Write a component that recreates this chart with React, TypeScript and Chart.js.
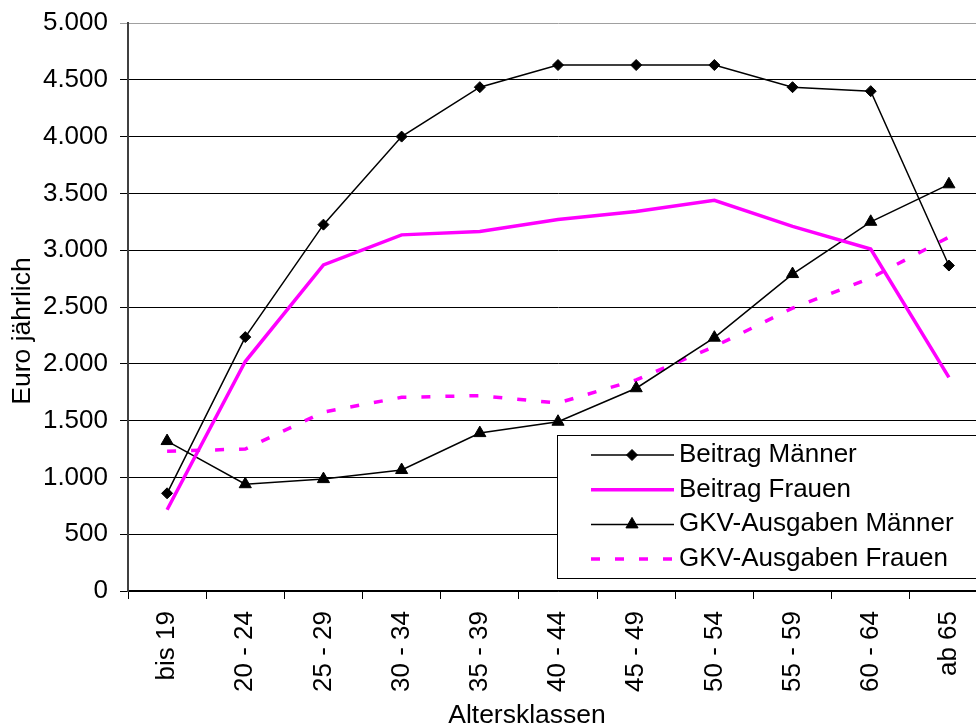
import React, { useEffect, useRef } from "react";
import { Chart, registerables } from "chart.js";

Chart.register(...registerables);

const categories = ["bis 19", "20 - 24", "25 - 29", "30 - 34", "35 - 39", "40 - 44", "45 - 49", "50 - 54", "55 - 59", "60 - 64", "ab 65"];
const beitragMaenner = [860, 2235, 3225, 4000, 4435, 4630, 4630, 4630, 4435, 4400, 2865];
const beitragFrauen = [715, 2020, 2870, 3135, 3165, 3270, 3340, 3440, 3210, 3010, 1880];
const gkvMaenner = [1320, 940, 985, 1065, 1390, 1490, 1785, 2230, 2790, 3250, 3580];
const gkvFrauen = [1230, 1250, 1575, 1705, 1720, 1655, 1858, 2152, 2490, 2755, 3115];
const seriesLabels = ["Beitrag Männer", "Beitrag Frauen", "GKV-Ausgaben Männer", "GKV-Ausgaben Frauen"];
const yMin = 0;
const yMax = 5000;
const yStep = 500;
const xTitle = "Altersklassen";
const yTitle = "Euro jährlich";

const FONT = "'Liberation Sans', Arial, sans-serif";
const MAGENTA = "#ff00ff";

function fmt(v: number): string {
  return String(v).replace(/\B(?=(\d{3})+(?!\d))/g, ".");
}

function drawDiamond(ctx: CanvasRenderingContext2D, x: number, y: number, r: number) {
  ctx.beginPath();
  ctx.moveTo(x, y - r);
  ctx.lineTo(x + r, y);
  ctx.lineTo(x, y + r);
  ctx.lineTo(x - r, y);
  ctx.closePath();
  ctx.fill();
  ctx.stroke();
}

function drawTriangle(ctx: CanvasRenderingContext2D, x: number, y: number, r: number) {
  ctx.beginPath();
  ctx.moveTo(x, y - r);
  ctx.lineTo(x + r * 0.866, y + r / 2);
  ctx.lineTo(x - r * 0.866, y + r / 2);
  ctx.closePath();
  ctx.fill();
  ctx.stroke();
}

const overlayPlugin = {
  id: "overlay",
  afterDraw(chart: any) {
    const ctx: CanvasRenderingContext2D = chart.ctx;
    ctx.save();
    ctx.fillStyle = "#000";
    ctx.font = `26.5px ${FONT}`;
    // y title
    ctx.save();
    ctx.translate(30, 331);
    ctx.rotate(-Math.PI / 2);
    ctx.textAlign = "center";
    ctx.textBaseline = "alphabetic";
    ctx.fillText(yTitle, 0, 0);
    ctx.restore();
    // x title
    ctx.textAlign = "center";
    ctx.textBaseline = "alphabetic";
    ctx.fillText(xTitle, 527, 723);

    // legend
    const bx = 557.5, by = 435.5, bw = 450, bh = 143;
    ctx.fillStyle = "#fff";
    ctx.fillRect(bx, by, bw, bh);
    ctx.strokeStyle = "#000";
    ctx.lineWidth = 1;
    ctx.strokeRect(bx, by, bw, bh);

    ctx.font = `26px ${FONT}`;
    const x0 = 591, x1 = 674, xm = 632, tx = 679;
    for (let i = 0; i < seriesLabels.length; i++) {
      const ry = 455 + i * 34.7;
      ctx.save();
      if (i === 0 || i === 2) {
        ctx.strokeStyle = "#000";
        ctx.lineWidth = 1.5;
        ctx.setLineDash([]);
      } else {
        ctx.strokeStyle = MAGENTA;
        ctx.lineWidth = 3.5;
        ctx.setLineDash(i === 3 ? [9, 15] : []);
      }
      ctx.beginPath();
      ctx.moveTo(x0, ry);
      ctx.lineTo(x1, ry);
      ctx.stroke();
      ctx.setLineDash([]);
      ctx.fillStyle = "#000";
      ctx.strokeStyle = "#000";
      ctx.lineWidth = 1;
      if (i === 0) drawDiamond(ctx, xm, ry, 5.5);
      if (i === 2) drawTriangle(ctx, xm, ry, 7);
      ctx.restore();
      ctx.fillStyle = "#000";
      ctx.textAlign = "left";
      ctx.textBaseline = "alphabetic";
      ctx.fillText(seriesLabels[i], tx, ry + 7);
    }
    ctx.restore();
  },
};

export default function App() {
  const canvasRef = useRef<HTMLCanvasElement | null>(null);

  useEffect(() => {
    if (!canvasRef.current) return;
    const tickFont = { family: FONT, size: 26 };
    const chart = new Chart(canvasRef.current, {
      type: "line",
      data: {
        labels: categories,
        datasets: [
          {
            label: seriesLabels[0],
            data: beitragMaenner,
            borderColor: "#000",
            borderWidth: 1.5,
            pointStyle: "rectRot",
            pointRadius: 5.5,
            pointBackgroundColor: "#000",
            pointBorderColor: "#000",
            pointBorderWidth: 1,
            tension: 0,
            fill: false,
          },
          {
            label: seriesLabels[1],
            data: beitragFrauen,
            borderColor: MAGENTA,
            borderWidth: 3.5,
            pointRadius: 0,
            tension: 0,
            fill: false,
          },
          {
            label: seriesLabels[2],
            data: gkvMaenner,
            borderColor: "#000",
            borderWidth: 1.5,
            pointStyle: "triangle",
            pointRadius: 7,
            pointBackgroundColor: "#000",
            pointBorderColor: "#000",
            pointBorderWidth: 1,
            tension: 0,
            fill: false,
          },
          {
            label: seriesLabels[3],
            data: gkvFrauen,
            borderColor: MAGENTA,
            borderWidth: 3.5,
            borderDash: [9, 15],
            pointRadius: 0,
            tension: 0,
            fill: false,
          },
        ],
      },
      options: {
        responsive: false,
        animation: false,
        layout: { padding: { top: 23, right: 0, left: 0, bottom: 0 } },
        plugins: { legend: { display: false }, tooltip: { enabled: false }, title: { display: false } },
        scales: {
          x: {
            offset: true,
            grid: { offset: true, drawOnChartArea: false, drawTicks: true, tickLength: 8, color: "#000", lineWidth: 1 },
            border: { color: "#000", width: 1.5 },
            ticks: { maxRotation: 90, minRotation: 90, autoSkip: false, padding: 12, color: "#000", font: tickFont },
            afterFit: (s: any) => {
              s.height = 136;
            },
          },
          y: {
            min: yMin,
            max: yMax,
            ticks: {
              stepSize: yStep,
              padding: 12,
              color: "#000",
              font: { family: FONT, size: 26, lineHeight: 0.6 },
              callback: (v: any) => fmt(Number(v)),
            },
            grid: {
              color: (c: any) => (c.tick && c.tick.value === yMax ? "#a0a0a0" : "#000"),
              lineWidth: 1,
              tickLength: 8,
              drawTicks: true,
            },
            border: { color: "#404040", width: 2 },
            afterFit: (s: any) => {
              s.width = 128;
            },
          },
        },
      },
      plugins: [overlayPlugin],
    } as any);
    return () => chart.destroy();
  }, []);

  return (
    <div style={{ position: "fixed", left: 0, top: 0, width: 976, height: 727, overflow: "hidden", background: "#fff" }}>
      <canvas ref={canvasRef} width={996} height={727} style={{ display: "block" }} />
    </div>
  );
}
